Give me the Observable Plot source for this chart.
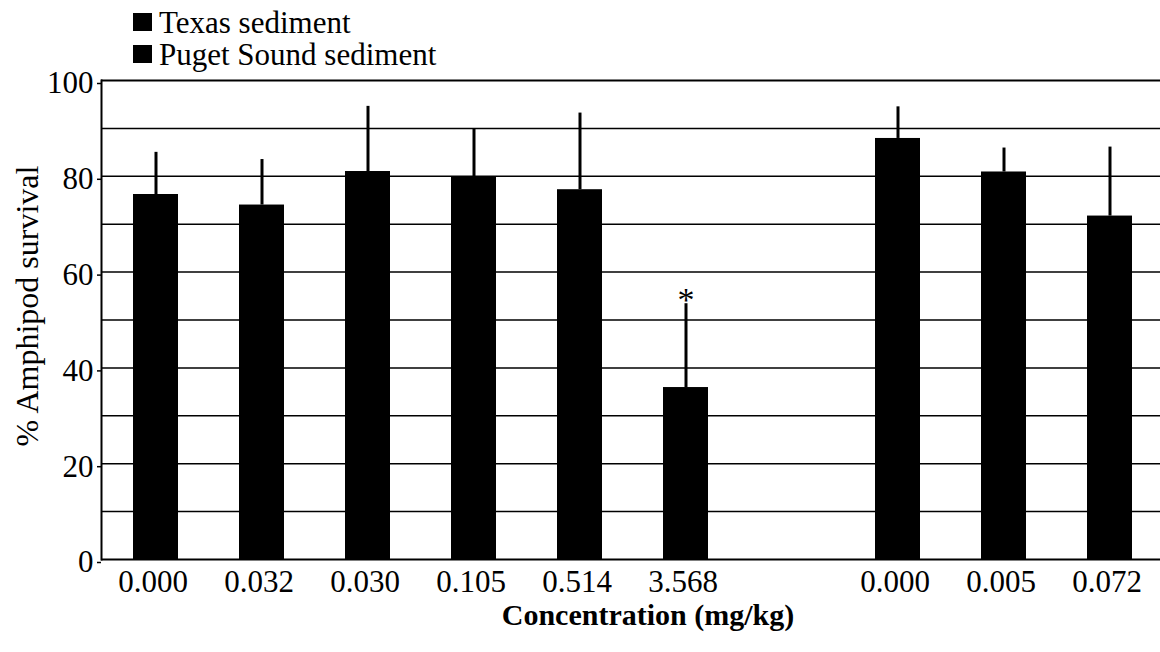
<!DOCTYPE html>
<html>
<head>
<meta charset="utf-8">
<script src="https://cdn.jsdelivr.net/npm/d3@7"></script>
<script src="https://cdn.jsdelivr.net/npm/@observablehq/plot@0.6"></script>
<style>
  body { margin: 0; background: #fff; font-family: "Liberation Serif", "Times New Roman", serif; }
  #wrap { width: 1160px; height: 652px; position: relative; overflow: hidden; }
  #legend { position: relative; width: 1160px; height: 62px; z-index: 1; }
  .sw { position: absolute; left: 133px; width: 19px; height: 18px; background: #000; }
  .lab { position: absolute; left: 159px; font-size: 31px; line-height: 30px; color: #000; white-space: nowrap; }
  #chart svg { display: block; background: transparent; }
</style>
</head>
<body>
<div id="wrap">
  <div id="legend"></div>
  <div id="chart"></div>
</div>
<script>
// ---- data ----
const seriesNames = ["Texas sediment", "Puget Sound sediment"];
const sediment = ["Texas", "Texas", "Texas", "Texas", "Texas", "Texas", "Puget Sound", "Puget Sound", "Puget Sound"];
const concLabels = ["0.000", "0.032", "0.030", "0.105", "0.514", "3.568", "0.000", "0.005", "0.072"];
const survival = [76.2, 74.0, 81.0, 79.8, 77.2, 35.9, 87.9, 80.9, 71.7];
const upperError = [85.0, 83.5, 94.6, 89.9, 93.2, 53.4, 94.5, 85.9, 86.1];
const significant = [false, false, false, false, false, true, false, false, false];
const yTicks = [0, 20, 40, 60, 80, 100];
const gridLines = [10, 20, 30, 40, 50, 60, 70, 80, 90];
const yTitle = "% Amphipod survival";
const xTitle = "Concentration (mg/kg)";

// ---- build table ----
const data = concLabels.map((c, i) => ({
  key: sediment[i] + "-" + i,
  label: c,
  sediment: sediment[i],
  survival: survival[i],
  upper: upperError[i],
  sig: significant[i]
}));
const texasKeys = data.filter(d => d.sediment === "Texas").map(d => d.key);
const pugetKeys = data.filter(d => d.sediment === "Puget Sound").map(d => d.key);
const domainX = [...texasKeys, "gap", ...pugetKeys];
const labelByKey = new Map(data.map(d => [d.key, d.label]));

// ---- legend ----
const legend = document.getElementById("legend");
const swTops = [13, 45];
const labTops = [8, 40];
seriesNames.forEach((name, i) => {
  const sw = document.createElement("div");
  sw.className = "sw";
  sw.style.top = swTops[i] + "px";
  legend.appendChild(sw);
  const lab = document.createElement("div");
  lab.className = "lab";
  lab.style.top = labTops[i] + "px";
  lab.textContent = name;
  legend.appendChild(lab);
});

// ---- chart ----
const chart = Plot.plot({
  width: 1160,
  height: 590,
  marginTop: 18,
  marginBottom: 93,
  marginLeft: 101,
  marginRight: 0,
  style: { fontFamily: "Liberation Serif, Times New Roman, serif", color: "black", background: "transparent", overflow: "visible" },
  x: { type: "band", domain: domainX, paddingInner: 0.577, paddingOuter: 0.27, align: 0.53, label: null },
  y: { domain: [0, 100], label: null },
  marks: [
    Plot.ruleY(gridLines, { stroke: "black", strokeWidth: 1.5 }),
    Plot.ruleY([100], { stroke: "black", strokeWidth: 2 }),
    Plot.barY(data, { x: "key", y: "survival", fill: "black" }),
    Plot.ruleX(data, { x: "key", y1: "survival", y2: "upper", stroke: "black", strokeWidth: 3 }),
    Plot.text(data.filter(d => d.sig), { x: "key", y: "upper", text: () => "*", fontSize: 34, lineAnchor: "bottom", dy: 7, fill: "black" }),
    Plot.ruleY([0], { stroke: "black", strokeWidth: 2 }),
    Plot.frame({ anchor: "left", stroke: "black", strokeWidth: 2 }),
    Plot.axisY(yTicks, { tickSize: 4, tickPadding: 4, fontSize: 31, dy: 3, strokeWidth: 1.5, label: null, tickFormat: d => String(d) }),
    Plot.axisX({ tickSize: 0, tickPadding: 10, fontSize: 31, dx: -3, label: null, tickFormat: k => labelByKey.get(k) ?? "" }),
    Plot.text([yTitle], { text: d => d, frameAnchor: "left", rotate: -90, dx: -74, dy: -14, fontSize: 32, textAnchor: "middle", fill: "black" }),
    Plot.text([xTitle], { text: d => d, frameAnchor: "bottom", dx: 17, dy: 65, fontSize: 30, fontWeight: "bold", lineAnchor: "bottom", fill: "black" })
  ]
});
document.getElementById("chart").appendChild(chart);
</script>
</body>
</html>
